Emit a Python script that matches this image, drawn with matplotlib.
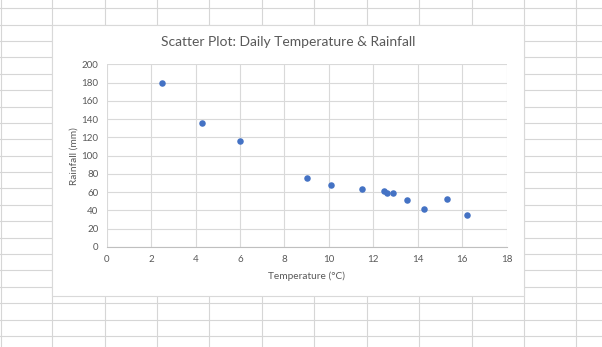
import matplotlib
matplotlib.use("Agg")
import matplotlib.pyplot as plt
from matplotlib.lines import Line2D
from matplotlib.patches import Rectangle

# data
temperature = [2.5, 4.3, 6.0, 9.0, 10.1, 11.5, 12.5, 12.6, 12.9, 13.5, 14.3, 15.3, 16.2]
rainfall = [179, 136, 116, 75, 68, 64, 61, 59, 59, 51, 42, 52, 35]
x_ticks = [0, 2, 4, 6, 8, 10, 12, 14, 16, 18]
y_ticks = [0, 20, 40, 60, 80, 100, 120, 140, 160, 180, 200]

W, H = 602, 347
plt.rcParams['font.family'] = ['Lato', 'DejaVu Sans']

fig = plt.figure(figsize=(W / 100, H / 100), dpi=100)
fig.patch.set_facecolor('white')

# spreadsheet cell grid behind the chart
sheet_col = '#d6d6d6'
for i in range(12):
    x = 52.3 + 52.4 * (i - 1) if i > 0 else 0.5
    fig.add_artist(Line2D([x / W, x / W], [0, 1], color=sheet_col, lw=0.8, zorder=0))
for j in range(21):
    y = 8.3 + 16.38 * j
    fig.add_artist(Line2D([0, 1], [1 - y / H, 1 - y / H], color=sheet_col, lw=0.8, zorder=0))

# chart area
cl, cr, ct, cb = 52.3, 524.0, 24.5, 296.3
fig.add_artist(Rectangle((cl / W, 1 - cb / H), (cr - cl) / W, (cb - ct) / H,
                         facecolor='white', edgecolor='#d9d9d9', lw=0.8, zorder=1))

# plot area
pl, pr, pt, pb = 106.7, 506.7, 64.3, 247.0
ax = fig.add_axes([pl / W, 1 - pb / H, (pr - pl) / W, (pb - pt) / H], zorder=2)
ax.set_facecolor('white')

ax.scatter(temperature, rainfall, s=22, color='#4472C4', zorder=3, linewidths=0)

ax.set_xlim(0, 18)
ax.set_ylim(0, 200)
ax.set_xticks(x_ticks)
ax.set_yticks(y_ticks)
ax.grid(True, color='#d9d9d9', lw=0.8)
ax.set_axisbelow(True)
for side in ['top', 'right', 'left']:
    ax.spines[side].set_visible(False)
ax.spines['bottom'].set_color('#bfbfbf')
ax.spines['bottom'].set_linewidth(0.8)
ax.tick_params(length=0, labelsize=7, labelcolor='#595959', pad=6)

fig.text(((cl + cr) / 2) / W, 1 - 42 / H, 'Scatter Plot: Daily Temperature & Rainfall',
         ha='center', va='center', fontsize=10, color='#595959')
fig.text(((pl + pr) / 2) / W, 1 - 276.5 / H, 'Temperature (°C)',
         ha='center', va='center', fontsize=7.3, color='#595959')
fig.text(74 / W, 1 - ((pt + pb) / 2) / H, 'Rainfall (mm)', rotation=90,
         ha='center', va='center', fontsize=7.3, color='#595959')

fig.savefig('out.png', dpi=100)
